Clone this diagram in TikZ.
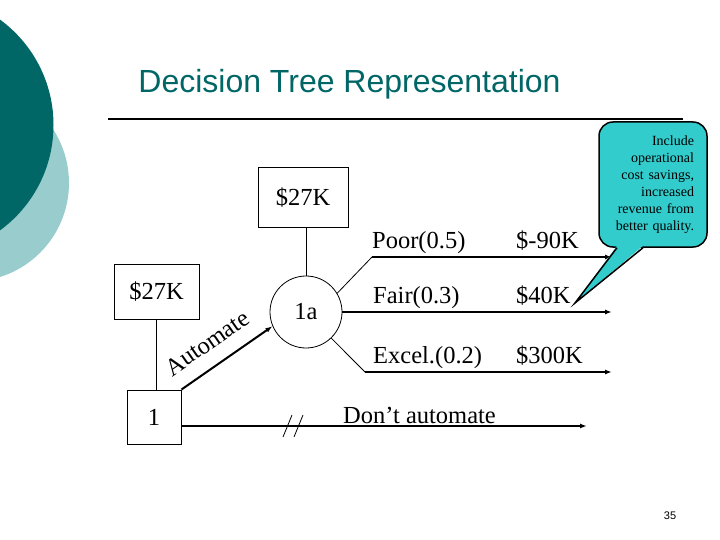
\documentclass[tikz,border=0pt]{standalone}
\usepackage{fontspec}
\setmainfont{Liberation Serif}
\newfontfamily\titlefont{Liberation Sans}
\usetikzlibrary{positioning,arrows.meta,calc}
\definecolor{tealdark}{RGB}{0,102,102}
\definecolor{teallight}{RGB}{153,204,204}
\definecolor{bubble}{RGB}{51,204,204}
\tikzset{
  big/.style   ={font=\fontsize{24.5}{28}\selectfont},
  box/.style   ={draw, line width=1pt, big, inner sep=0pt},
  chance/.style={circle, draw, line width=0.8pt, big, minimum size=72pt, inner sep=0pt},
  lbl/.style   ={big, anchor=base west, inner sep=0pt},
  fl/.style    ={-{Latex[length=7pt,width=5pt]}, line width=2pt},
  thinl/.style ={line width=0.8pt},
  note/.style  ={font=\fontsize{14}{17}\selectfont, align=right, text width=82pt,
                 inner xsep=13pt, minimum width=108pt, minimum height=125pt,
                 rounded corners=14pt, fill=bubble, draw, line width=1.5pt},
}

\begin{document}
\begin{tikzpicture}[x=1pt,y=-1pt]
  \useasboundingbox (0,0) rectangle (720,540);
  \clip (0,0) rectangle (720,540);

  % --- slide decoration -----------------------------------------------
  \fill[teallight] (-29.5,183) circle (98.5pt);
  \fill[tealdark]  (-77,125)   circle (130.5pt);
  \node[font=\titlefont\fontsize{32}{38}\selectfont, text=tealdark, anchor=base] (title)
        at (349.5,93) {Decision Tree Representation};
  \coordinate (rulel) at (108,119);
  \coordinate (ruler) at (683,119);
  \draw[line width=2pt] (rulel) -- (ruler);

  % --- tree nodes -------------------------------------------------------
  \node[box, minimum width=90pt, minimum height=60pt] (cost1a) at (303,198) {\$27K};
  \node[chance] (c1a) at (306,312) {1a};
  \node[box, minimum width=85pt, minimum height=55pt] (cost1) at (156.5,291.5) {\$27K};
  \node[box, minimum size=54pt] (d1) at (154,417) {1};

  \coordinate (poorbend)  at (372,257);
  \coordinate (poorend)   at (612,257);
  \coordinate (fairend)   at (612,312);
  \coordinate (excelbend) at (365,372);
  \coordinate (excelend)  at (612,372);
  \coordinate (dontend)   at (587,426);
  \coordinate (brk)       at (293,426);

  % --- branch labels ----------------------------------------------------
  \node[lbl] (poor)  at (372,248) {Poor(0.5)};
  \node[lbl] (v90)   at (516,248) {\$-90K};
  \node[lbl] (fair)  at (373,303) {Fair(0.3)};
  \node[lbl] (v40)   at (516,303) {\$40K};
  \node[lbl] (excel) at (373,363) {Excel.(0.2)};
  \node[lbl] (v300)  at (516,363) {\$300K};
  \node[lbl] (dont)  at (343,423) {Don’t automate};

  % --- connectors -------------------------------------------------------
  \draw[line width=1pt] (c1a.north) -- (c1a.north |- cost1a.south);
  \draw[line width=1pt] (cost1.south) -- (cost1.south |- d1.north);
  \draw[fl] (d1.north east) -- node[big, sloped, above=11pt, pos=.43]{Automate} (c1a.203);
  \draw[thinl] (c1a.31) -- (poorbend);
  \draw[fl] (poorbend) -- (poorend);
  \draw[fl] (c1a.east) -- (fairend);
  \draw[thinl] (c1a.-46) -- (excelbend);
  \draw[fl] (excelbend) -- (excelend);
  \draw[fl] (d1.east |- dontend) -- (dontend);
  \draw[thinl] ($(brk)+(-10,11)$) -- ($(brk)+(-1,-11)$);
  \draw[thinl] ($(brk)+(1,11)$) -- ($(brk)+(10,-11)$);

  % --- callout ----------------------------------------------------------
  \node[note] (note) at (653,184.5)
        {Include\\ operational\\ cost savings,\\ increased\\ revenue from\\ better quality.};
  \coordinate (tip) at (575,303);
  \fill[bubble] ($(note.south)+(-36,-2)$) -- (tip) -- ($(note.south)+(-10,-2)$) -- cycle;
  \draw[line width=1.5pt] ($(note.south)+(-36,0)$) -- (tip) -- ($(note.south)+(-10,0)$);

  \node[font=\titlefont\fontsize{11}{13}\selectfont] (pg) at (670,516) {35};
\end{tikzpicture}
\end{document}
